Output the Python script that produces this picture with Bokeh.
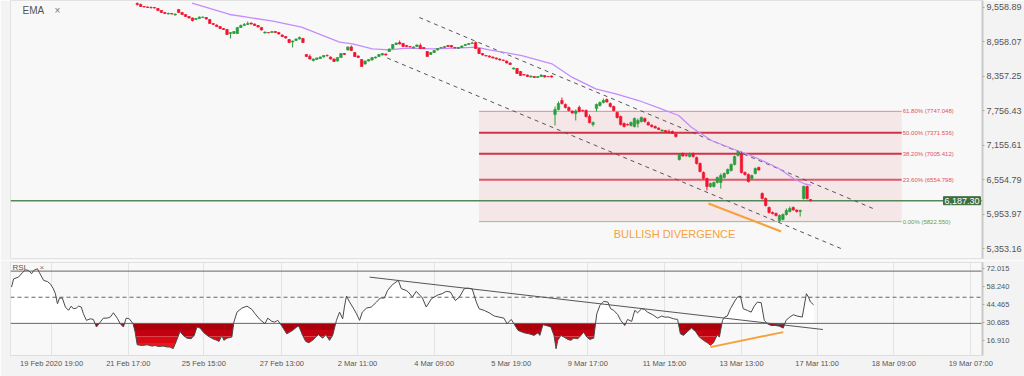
import numpy as np
from bokeh.plotting import figure
from bokeh.layouts import column
from bokeh.models import Range1d, FixedTicker, NumeralTickFormatter, Label, ColumnDataSource
from bokeh.core.properties import value
from bokeh.embed import file_html
from bokeh.resources import INLINE

FONT = "Liberation Sans"

# ---------------- price candles (bar index 0..195) ----------------
open_ = [9629, 9611, 9576, 9568, 9559, 9559, 9541, 9506, 9472, 9445, 9454, 9428,
         9524, 9472, 9437, 9402, 9376, 9349, 9367, 9384, 9384, 9349, 9280, 9254,
         9227, 9192, 9175, 9105, 9105, 9105, 9210, 9245, 9262, 9288, 9271, 9245,
         9210, 9114, 9123, 9123, 9140, 9123, 9079, 9053, 9000, 8957, 8983, 9009, 9018,
         8739, 8704, 8634, 8651, 8669, 8695, 8721, 8695, 8660, 8625, 8686, 8756,
         8817, 8870, 8774, 8713, 8651, 8573, 8625, 8643, 8678, 8704, 8730, 8747,
         8791, 8843, 8913, 8948, 8931, 8896, 8878, 8852, 8878, 8896, 8861, 8791,
         8739, 8774, 8817, 8852, 8861, 8896, 8896, 8861, 8843, 8861, 8896, 8913,
         8931, 8948, 8843, 8756, 8721, 8713, 8695, 8678, 8660, 8643, 8625, 8590,
         8486, 8494, 8442, 8390, 8381, 8346, 8355, 8337, 8355, 8372, 8355, 8363,
         7692, 7779, 7936, 7866, 7814, 7753, 7709, 7814, 7762, 7762, 7657, 7517,
         7796, 7849, 7901, 7953, 7884, 7831, 7727, 7657, 7535, 7517, 7500, 7482,
         7535, 7570, 7622, 7552, 7508, 7482, 7456, 7404, 7413, 7395, 7395, 7351,
         6906, 7011, 6976, 6959, 7011, 6941, 6837, 6680, 6575, 6435, 6435, 6505,
         6505, 6592, 6662, 6715, 6819, 6976, 7011, 6680, 6645, 6575, 6662, 6767,
         6313, 6226, 6069, 5982, 5964, 5842, 5859, 5947, 5999, 6069, 6025, 5999,
         6226, 6435, 6208]
close_ = [9611, 9576, 9568, 9559, 9555, 9550, 9506, 9472, 9454, 9454, 9445, 9445,
          9472, 9437, 9402, 9376, 9332, 9367, 9393, 9393, 9358, 9280, 9262, 9227,
          9192, 9175, 9088, 9123, 9140, 9210, 9245, 9262, 9280, 9271, 9245, 9219,
          9166, 9131, 9119, 9140, 9123, 9096, 9053, 9027, 8948, 8974, 9009, 9035, 8948,
          8704, 8660, 8660, 8678, 8695, 8721, 8717, 8660, 8617, 8686, 8756, 8739,
          8870, 8808, 8704, 8686, 8529, 8625, 8651, 8686, 8695, 8739, 8756, 8730,
          8835, 8913, 8939, 8922, 8878, 8878, 8874, 8870, 8905, 8843, 8843, 8704,
          8774, 8808, 8843, 8861, 8878, 8878, 8870, 8852, 8861, 8887, 8913, 8931,
          8939, 8843, 8756, 8730, 8713, 8695, 8678, 8660, 8643, 8634, 8590, 8564,
          8503, 8407, 8372, 8381, 8355, 8363, 8337, 8355, 8381, 8346, 8351, 8346,
          7779, 7884, 7884, 7814, 7762, 7718, 7753, 7744, 7753, 7657, 7552, 7552,
          7866, 7901, 7936, 7910, 7831, 7762, 7639, 7517, 7482, 7508, 7552, 7622,
          7587, 7639, 7570, 7508, 7482, 7456, 7430, 7421, 7386, 7391, 7360, 7308,
          6994, 6967, 6972, 7011, 6959, 6837, 6697, 6575, 6435, 6488, 6505, 6592,
          6627, 6662, 6732, 6819, 6959, 7029, 6680, 6645, 6523, 6627, 6749, 6723,
          6226, 6104, 5982, 5964, 5929, 5929, 5947, 6017, 6051, 6025, 5999, 6017,
          6435, 6226, 6187.3]
high_ = [9646, 9629, 9585, 9576, 9576, 9568, 9550, 9515, 9480, 9472, 9463, 9454,
         9533, 9480, 9445, 9411, 9384, 9376, 9402, 9402, 9393, 9358, 9288, 9262,
         9236, 9201, 9184, 9131, 9149, 9219, 9262, 9288, 9315, 9297, 9280, 9254,
         9219, 9140, 9131, 9149, 9149, 9131, 9088, 9062, 9009, 8983, 9018, 9053, 9027,
         8747, 8739, 8669, 8686, 8704, 8730, 8739, 8704, 8669, 8695, 8765, 8765,
         8878, 8896, 8782, 8721, 8660, 8634, 8660, 8695, 8704, 8747, 8765, 8756,
         8843, 8922, 8948, 8983, 8939, 8905, 8887, 8878, 8913, 8931, 8870, 8799,
         8782, 8817, 8852, 8870, 8887, 8905, 8905, 8870, 8870, 8896, 8922, 8939,
         8966, 8966, 8852, 8765, 8730, 8721, 8704, 8686, 8669, 8651, 8634, 8599,
         8512, 8503, 8451, 8398, 8390, 8372, 8363, 8363, 8390, 8381, 8363, 8372,
         7831, 7919, 7988, 7884, 7831, 7762, 7779, 7849, 7779, 7779, 7692, 7570,
         7884, 7919, 7971, 7971, 7901, 7849, 7744, 7674, 7552, 7535, 7570, 7639,
         7622, 7657, 7639, 7570, 7517, 7500, 7465, 7430, 7421, 7430, 7413, 7360,
         7011, 7029, 6994, 7029, 7029, 6959, 6854, 6697, 6592, 6505, 6523, 6610,
         6662, 6680, 6749, 6837, 6976, 7064, 7046, 6697, 6662, 6645, 6767, 6784,
         6331, 6243, 6086, 5999, 5982, 5947, 5964, 6051, 6086, 6086, 6034, 6034,
         6453, 6453, 6217]
low_ = [9594, 9568, 9559, 9550, 9541, 9541, 9498, 9463, 9445, 9437, 9437, 9419,
        9463, 9428, 9393, 9367, 9315, 9341, 9358, 9376, 9349, 9271, 9254, 9219,
        9184, 9166, 9079, 9018, 9096, 9096, 9201, 9236, 9254, 9262, 9236, 9210,
        9158, 9105, 9110, 9114, 9114, 9088, 9044, 9018, 8939, 8861, 8974, 9000, 8939,
        8695, 8651, 8617, 8643, 8660, 8686, 8704, 8651, 8608, 8617, 8678, 8730,
        8808, 8799, 8695, 8678, 8521, 8564, 8617, 8634, 8669, 8695, 8721, 8721,
        8782, 8835, 8905, 8913, 8870, 8870, 8861, 8843, 8870, 8835, 8835, 8695,
        8730, 8765, 8808, 8843, 8852, 8870, 8861, 8843, 8835, 8852, 8887, 8905,
        8922, 8835, 8747, 8721, 8704, 8686, 8669, 8651, 8634, 8625, 8582, 8556,
        8477, 8398, 8363, 8372, 8346, 8337, 8328, 8328, 8346, 8337, 8346, 8337,
        7500, 7762, 7866, 7796, 7744, 7709, 7587, 7727, 7744, 7639, 7535, 7482,
        7744, 7831, 7884, 7901, 7814, 7744, 7622, 7500, 7465, 7500, 7482, 7465,
        7465, 7552, 7552, 7500, 7465, 7447, 7421, 7395, 7378, 7360, 7351, 7290,
        6889, 6959, 6959, 6941, 6941, 6819, 6680, 6557, 6366, 6418, 6418, 6488,
        6400, 6575, 6645, 6697, 6802, 6959, 6662, 6627, 6505, 6557, 6645, 6715,
        6208, 6086, 5964, 5947, 5912, 5807, 5842, 5929, 5982, 6017, 5982, 5912,
        6208, 6208, 6173]

# ---------------- EMA (bar index, value) ----------------
ema_x = [15.9, 26.8, 31.8, 39.3, 47.6, 58.6, 62.4, 68.1, 73.0, 77.9, 85.5, 92.4,
         98.2, 101.9, 111.4, 120.1, 125.9, 132.8, 138.6, 145.2, 151.0, 156.8, 160.5,
         166.3, 174.1, 177.8, 185.6, 190.5, 193.4, 195.2]
ema_v = [9634, 9437, 9390, 9320, 9215, 8953, 8925, 8838, 8821, 8849, 8838, 8849,
         8866, 8821, 8721, 8576, 8343, 8140, 8053, 7936, 7809, 7674, 7470,
         7238, 7055, 6976, 6758, 6557, 6479, 6453]

# ---------------- RSI (bar index, value) ----------------
rsi_x = [-36.4, -35.8, -34.4, -33.2, -32.3, -31.5, -30.6, -30.0, -28.9, -28.3,
         -27.1, -26.0, -25.1, -24.3, -23.7, -23.1, -22.5, -21.7, -20.8, -19.9,
         -19.1, -18.5, -17.6, -17.0, -16.2, -15.6, -14.7, -13.6, -12.7, -11.8,
         -10.7, -9.8, -8.7, -7.8, -6.9, -5.8, -4.9, -4.0, -3.2, -2.3,
         -1.2, -0.6, 0.0, 1.4, 2.9, 4.3, 5.2, 6.1, 7.5, 8.7,
         9.5, 10.4, 11.3, 12.4, 13.3, 14.4, 15.6, 16.5, 17.3, 18.2,
         19.3, 20.5, 21.9, 23.1, 23.7, 24.5, 25.1, 26.0, 27.4, 28.0,
         28.9, 30.3, 31.8, 33.2, 34.1, 35.5, 37.0, 37.8, 39.0, 39.8,
         40.7, 41.9, 43.3, 44.2, 45.0, 46.2, 46.8, 47.9, 48.8, 49.7,
         50.8, 52.0, 52.5, 53.7, 54.6, 55.7, 56.6, 57.7, 58.6, 59.5,
         60.0, 60.6, 61.5, 62.4, 63.5, 64.4, 65.2, 66.4, 67.8, 69.3,
         70.4, 71.6, 72.5, 73.9, 75.6, 76.5, 77.9, 78.5, 79.7, 80.8,
         82.6, 83.7, 85.2, 86.0, 87.2, 88.3, 89.5, 90.7, 92.1, 93.3,
         94.7, 95.6, 97.0, 98.2, 99.0, 100.5, 101.9, 103.4, 104.8, 106.2,
         107.1, 108.3, 109.1, 110.3, 112.0, 113.5, 114.9, 116.1, 116.6, 117.5,
         118.4, 119.8, 120.7, 121.3, 121.8, 122.7, 123.6, 124.7, 125.6, 126.4,
         127.6, 128.5, 129.3, 130.2, 131.1, 132.2, 133.1, 134.0, 135.1, 136.3,
         137.1, 138.0, 139.2, 140.0, 141.2, 142.0, 143.2, 144.1, 144.9, 146.1,
         146.9, 147.8, 149.3, 150.7, 151.9, 152.7, 153.9, 155.3, 156.5, 157.3,
         158.2, 159.4, 160.5, 161.7, 162.8, 164.0, 165.1, 166.0, 166.9, 168.0,
         168.6, 169.5, 170.1, 170.9, 171.8, 172.9, 173.8, 174.7, 175.5, 176.7,
         177.8, 178.7, 179.6, 180.7, 181.6, 182.5, 183.6, 184.8, 185.9, 187.1,
         187.9, 189.0, 190.0, 191.1, 192.6, 193.8, 194.4, 195.0, 195.9]
rsi_v = [57.8, 64.0, 65.4, 69.0, 71.0, 70.5, 68.0, 70.5, 71.8, 68.7,
         62.9, 62.0, 60.0, 56.5, 52.7, 45.0, 49.4, 49.4, 42.5, 40.0,
         43.2, 41.2, 41.7, 43.2, 42.5, 37.4, 32.3, 33.5, 33.0, 27.2,
         31.0, 34.0, 34.0, 34.8, 38.1, 34.0, 29.7, 27.2, 34.0, 33.5,
         29.7, 23.3, 13.6, 13.1, 13.6, 12.6, 13.1, 12.3, 12.6, 11.9,
         11.9, 10.6, 16.2, 23.8, 20.8, 18.7, 18.2, 20.8, 27.2, 26.4,
         22.8, 20.3, 18.2, 17.0, 16.2, 20.8, 17.0, 18.7, 19.5, 31.0,
         38.6, 41.7, 43.2, 40.7, 37.4, 33.0, 29.7, 34.0, 31.5, 31.0,
         32.3, 27.9, 22.0, 23.3, 24.6, 27.2, 27.9, 20.8, 16.2, 15.2,
         17.0, 20.3, 21.3, 18.7, 21.3, 17.0, 20.8, 32.3, 38.6, 33.5,
         42.5, 50.9, 46.3, 42.5, 37.4, 32.3, 38.6, 41.7, 42.5, 46.3,
         49.4, 49.4, 55.2, 59.6, 62.9, 56.5, 55.2, 54.0, 50.1, 54.5,
         49.4, 42.5, 48.8, 50.1, 51.9, 52.7, 54.5, 54.0, 47.5, 50.1,
         56.5, 57.0, 56.5, 46.3, 41.2, 39.9, 38.1, 35.6, 34.8, 34.0,
         29.7, 33.0, 29.7, 24.6, 22.8, 22.0, 20.8, 22.8, 20.8, 29.0,
         28.4, 27.2, 20.8, 10.6, 17.0, 20.8, 19.5, 17.7, 17.0, 18.7,
         18.2, 20.8, 23.3, 19.5, 17.7, 18.7, 37.4, 43.7, 46.8, 46.3,
         41.2, 39.9, 36.6, 32.3, 28.4, 33.0, 31.5, 39.9, 38.1, 41.2,
         40.7, 38.6, 36.6, 34.0, 35.6, 34.8, 34.8, 33.5, 33.0, 22.0,
         20.8, 23.8, 26.4, 23.8, 19.5, 17.0, 15.2, 13.2, 15.2, 21.3,
         19.5, 32.3, 34.8, 35.6, 41.2, 46.3, 50.1, 50.9, 41.2, 39.9,
         38.6, 43.2, 46.3, 45.8, 32.3, 29.7, 28.4, 28.4, 27.9, 26.4,
         32.3, 34.8, 36.6, 35.6, 34.8, 52.7, 50.1, 46.3, 44.2]

# ---------------- axes ----------------
tick_x = [-24.8, -2.6, 19.3, 41.9, 63.8, 86.0, 108.3, 130.5, 152.7, 175.0, 196.9, 219.1, 241.4]
tick_labels = ["19 Feb 2020 19:00", "21 Feb 17:00", "25 Feb 15:00", "27 Feb 13:00",
               "2 Mar 11:00", "4 Mar 09:00", "5 Mar 19:00", "9 Mar 17:00",
               "11 Mar 15:00", "13 Mar 13:00", "17 Mar 11:00", "18 Mar 09:00", "19 Mar 07:00"]
price_ticks = [9558.89, 8958.07, 8357.25, 7756.43, 7155.61, 6554.79, 5953.97, 5353.16]
rsi_ticks = [72.015, 58.240, 44.465, 30.685, 16.910]
rsi_levels = [70, 50, 30]

# ---------------- drawings ----------------
chan_upper_x = [81.7, 213.1]
chan_upper_y = [9384, 6051]
chan_lower_x = [72.4, 203.8]
chan_lower_y = [8678, 5353]
div_price_x = [165.4, 186.5]
div_price_y = [6139, 5650]
div_rsi_x = [166.0, 187.1]
div_rsi_y = [11.8, 23.3]
rsi_trend_x = [67.3, 198.6]
rsi_trend_y = [65.4, 25.3]
fib_x = [99.0, 221.4]
fib_pct = [0.0, 23.6, 38.2, 50.0, 61.8]
fib_val = [5822.550, 6554.798, 7005.412, 7371.536, 7747.048]
last_price = 6187.30
div_text_x, div_text_y = 138.0, 5598

GREEN = "#2a9d3c"
RED = "#f2142f"

xr = Range1d(-36.7, 244.8)

# ================= price panel =================
p = figure(width=1024, height=260, x_range=xr, y_range=Range1d(5179, 9681),
           output_backend="svg", toolbar_location=None, x_axis_location=None,
           y_axis_location="right", min_border_left=10, min_border_right=40,
           min_border_top=0, min_border_bottom=2,
           background_fill_color="#f8f8f8", border_fill_color="#f3f3f3",
           outline_line_color="#e2e2e2")
p.grid.visible = False

# fib box
p.quad(left=[fib_x[0]], right=[fib_x[1]], bottom=[fib_val[0]], top=[fib_val[-1]],
       fill_color="#f5e6e8", line_color=None)
fib_colors = ["#8fc28f", "#de5a6a", "#cf3446", "#cf3446", "#e58a90"]
fib_widths = [1, 2, 2, 2, 1]
for v, c, w in zip(fib_val, fib_colors, fib_widths):
    p.line(fib_x, [v, v], line_color=c, line_width=w)
fib_text = [f"{pc:.2f}% ({v:.3f})" for pc, v in zip(fib_pct, fib_val)]
p.text(x=[fib_x[1]] * len(fib_val), y=fib_val, text=fib_text,
       text_font=value(FONT), text_font_size="6px", x_offset=1,
       text_baseline="middle", text_align="left",
       text_color=["#5f9f55", "#e05060", "#e05060", "#e05060", "#e05060"])

# current price line
p.line([xr.start, xr.end], [last_price, last_price], line_color="#55875a", line_width=1.5)

# channel
p.line(chan_upper_x, chan_upper_y, line_color="#555555", line_dash="4 4", line_width=1)
p.line(chan_lower_x, chan_lower_y, line_color="#555555", line_dash="4 4", line_width=1)

# EMA
p.line(ema_x, ema_v, line_color="#c28cff", line_width=1.3)

# candles
o = np.array(open_, float); c = np.array(close_, float)
h = np.array(high_, float); l = np.array(low_, float)
x = np.arange(len(c))
up = c >= o
for mask, col in ((up, GREEN), (~up, RED)):
    src = ColumnDataSource(dict(x=x[mask], top=np.maximum(o, c)[mask],
                                bot=np.minimum(o, c)[mask], hi=h[mask], lo=l[mask]))
    p.segment(x0="x", y0="lo", x1="x", y1="hi", source=src, line_color=col, line_width=1)
    p.vbar(x="x", width=0.72, top="top", bottom="bot", source=src,
           fill_color=col, line_color=col, line_width=0.6)

# divergence
p.line(div_price_x, div_price_y, line_color="#f7a13c", line_width=2)
p.text(x=[div_text_x], y=[div_text_y], text=["BULLISH DIVERGENCE"],
       text_font=value(FONT), text_font_size="11px", text_color="#f7a13c",
       text_baseline="middle", text_align="left")

# axis
ya = p.yaxis[0]
ya.ticker = FixedTicker(ticks=price_ticks)
ya.formatter = NumeralTickFormatter(format="0,0.00")
ya.major_label_text_font = FONT
ya.major_label_text_font_size = "9px"
ya.major_label_text_color = "#555555"
ya.axis_line_color = "#c9c9c9"
ya.axis_line_width = 2
ya.major_tick_in = 0
ya.major_tick_out = 2
ya.major_tick_line_color = "#aaaaaa"
ya.minor_tick_line_color = None
ya.major_label_standoff = 2

# last-price tag (annotations stay inside the frame, so it sits at the frame edge)
p.add_layout(Label(x=xr.end, y=last_price, x_units="data", y_units="data", x_offset=-2,
                   text=f"{last_price:,.2f}", text_font=FONT, text_font_size="9px",
                   text_color="white", text_baseline="middle", text_align="right",
                   background_fill_color="#3f6e3f", border_line_color="#3f6e3f",
                   padding=1))
p.add_layout(Label(x=12, y=248, x_units="screen", y_units="screen", text="EMA",
                   text_font=FONT, text_font_size="10px", text_color="#555555",
                   text_baseline="middle"))
p.add_layout(Label(x=44, y=248, x_units="screen", y_units="screen", text="×",
                   text_font=FONT, text_font_size="10px", text_color="#777777",
                   text_baseline="middle"))

# ================= RSI panel =================
r = figure(width=1024, height=116, x_range=xr, y_range=Range1d(5.4, 76.6),
           output_backend="svg", toolbar_location=None, y_axis_location="right",
           min_border_left=10, min_border_right=40, min_border_top=2, min_border_bottom=21,
           background_fill_color="#f8f8f8", border_fill_color="#f3f3f3",
           outline_line_color="#e2e2e2")
r.ygrid.visible = False
r.xgrid.ticker = FixedTicker(ticks=tick_x)
r.xgrid.grid_line_color = "#e4e4e4"


def add_crossings(xs, ys, levels):
    ox, oy = [xs[0]], [ys[0]]
    for i in range(1, len(xs)):
        x0, y0, x1, y1 = xs[i - 1], ys[i - 1], xs[i], ys[i]
        cr = []
        for L in levels:
            if (y0 - L) * (y1 - L) < 0:
                t = (L - y0) / (y1 - y0)
                cr.append((t, x0 + t * (x1 - x0), L))
        for t, cx, cy in sorted(cr):
            ox.append(cx); oy.append(cy)
        ox.append(x1); oy.append(y1)
    return np.array(ox), np.array(oy)


bands = [(25, 30, "#a9000c"), (20, 25, "#c2000f"), (15, 20, "#da0a15"),
         (10, 15, "#ee161c"), (0, 10, "#ff2a2a")]
dx, dy = add_crossings(rsi_x, rsi_v, [30, 25, 20, 15, 10])
r.varea(x=dx, y1=np.full_like(dy, 30.0), y2=np.maximum(dy, 30.0), fill_color="white")
for lo, hi, col in bands:
    r.varea(x=dx, y1=np.clip(dy, lo, hi), y2=np.full_like(dy, float(hi)), fill_color=col)

for lev in rsi_levels:
    r.line([xr.start, xr.end], [lev, lev], line_color="#666666", line_width=1,
           line_dash="4 3" if lev == 50 else "solid")

r.line(rsi_x, rsi_v, line_color="#4a4a4a", line_width=1)
r.line(rsi_trend_x, rsi_trend_y, line_color="#555555", line_width=1)
r.line(div_rsi_x, div_rsi_y, line_color="#f7a13c", line_width=2)

ry = r.yaxis[0]
ry.ticker = FixedTicker(ticks=rsi_ticks)
ry.formatter = NumeralTickFormatter(format="0.000")
ry.major_label_text_font = FONT
ry.major_label_text_font_size = "7.5px"
ry.major_label_text_color = "#555555"
ry.axis_line_color = "#c9c9c9"
ry.axis_line_width = 2
ry.major_tick_in = 0
ry.major_tick_out = 2
ry.major_tick_line_color = "#aaaaaa"
ry.minor_tick_line_color = None
ry.major_label_standoff = 2

rx = r.xaxis[0]
rx.ticker = FixedTicker(ticks=tick_x)
rx.major_label_overrides = dict(zip(tick_x, tick_labels))
rx.major_label_text_font = FONT
rx.major_label_text_font_size = "7.5px"
rx.major_label_text_color = "#555555"
rx.axis_line_color = "#dddddd"
rx.major_tick_in = 0
rx.major_tick_out = 0
rx.minor_tick_in = 0
rx.minor_tick_out = 0
rx.major_tick_line_color = None
rx.minor_tick_line_color = None
rx.major_label_standoff = 3

r.add_layout(Label(x=2, y=88, x_units="screen", y_units="screen", text="RSI",
                   text_font=FONT, text_font_size="8px", text_color="#555555",
                   text_baseline="middle"))
r.add_layout(Label(x=29, y=88, x_units="screen", y_units="screen", text="×",
                   text_font=FONT, text_font_size="8px", text_color="#777777",
                   text_baseline="middle"))

layout = column(p, r, spacing=0)
open("out.html", "w").write(file_html(layout, INLINE))
